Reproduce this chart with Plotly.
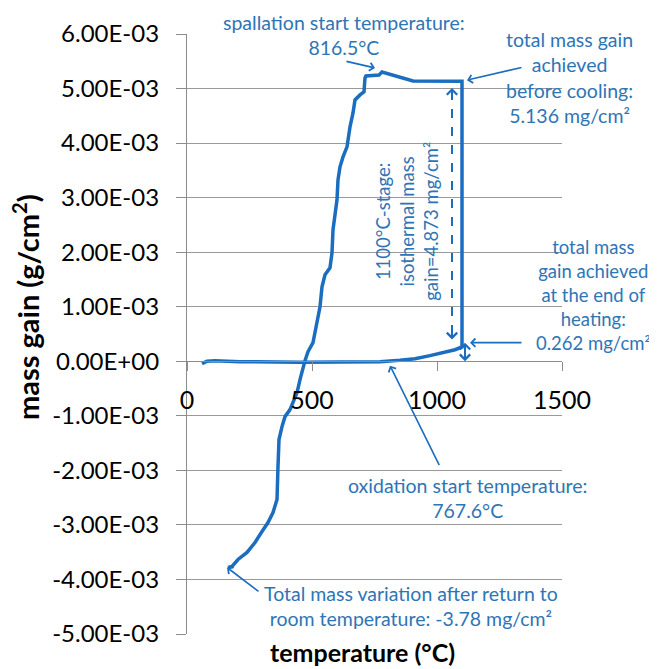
import plotly.graph_objects as go

# ---- data (temperature in °C, mass gain in g/cm²) ----
heat_T = [60, 80, 112, 212, 452, 692, 772, 852, 912, 972, 1032, 1072, 1100]
heat_m = [-0.044e-3, 0.002e-3, 0.011e-3, -0.007e-3, -0.016e-3, -0.016e-3, -0.007e-3,
          0.020e-3, 0.048e-3, 0.103e-3, 0.167e-3, 0.212e-3, 0.262e-3]

iso_T = [1100]
iso_m = [5.136e-3]

cool_T = [904, 780, 768, 716, 712, 708, 692, 672, 664, 652, 640, 624, 612, 604, 600, 592,
          584, 580, 572, 552, 540, 532, 520, 504, 484, 472, 452, 440, 412, 392, 380, 368,
          364, 360, 344, 324, 300, 272, 240, 204, 180, 164]
cool_m = [5.14e-3, 5.304e-3, 5.249e-3, 5.231e-3, 5.194e-3, 4.938e-3, 4.883e-3, 4.791e-3,
          4.553e-3, 4.297e-3, 3.930e-3, 3.747e-3, 3.564e-3, 3.326e-3, 2.960e-3, 2.648e-3,
          2.410e-3, 1.989e-3, 1.714e-3, 1.586e-3, 1.366e-3, 1.000e-3, 0.707e-3, 0.341e-3,
          0.176e-3, 0.011e-3, -0.337e-3, -0.575e-3, -0.886e-3, -1.015e-3, -1.198e-3,
          -1.436e-3, -1.930e-3, -2.535e-3, -2.773e-3, -2.956e-3, -3.121e-3, -3.322e-3,
          -3.505e-3, -3.634e-3, -3.762e-3, -3.780e-3]

x_tickvals = [0, 500, 1000, 1500]
x_ticktext = ["0", "500", "1000", "1500"]
y_tickvals = [6e-3, 5e-3, 4e-3, 3e-3, 2e-3, 1e-3, 0, -1e-3, -2e-3, -3e-3, -4e-3, -5e-3]
y_ticktext = ["6.00E-03", "5.00E-03", "4.00E-03", "3.00E-03", "2.00E-03", "1.00E-03",
              "0.00E+00", "-1.00E-03", "-2.00E-03", "-3.00E-03", "-4.00E-03", "-5.00E-03"]

T_all = heat_T + iso_T + cool_T
m_all = heat_m + iso_m + cool_m

LINE = "#1b6dbf"
TXT = "#2e75b6"
FONT = "Lato"

fig = go.Figure()
fig.add_trace(go.Scatter(x=T_all, y=m_all, mode="lines",
                         line=dict(color=LINE, width=3.5), showlegend=False,
                         hoverinfo="skip"))

# the page body adds an 8px offset, so the figure is 8px smaller than the window
fig.update_layout(
    width=649, height=661,
    margin=dict(l=179, r=95, t=26, b=35, autoexpand=False),
    paper_bgcolor="white", plot_bgcolor="white",
    font=dict(family=FONT, color="black"),
    showlegend=False,
    xaxis=dict(range=[0, 1500], tickvals=x_tickvals, ticktext=x_ticktext,
               anchor="free", position=5 / 11, showgrid=False, zeroline=False,
               automargin=False,
               showline=True, linecolor="#8c8c8c", linewidth=1.2,
               ticks="outside", ticklen=9, tickcolor="#8c8c8c", tickwidth=1.2,
               ticklabelstandoff=8,
               tickfont=dict(family=FONT, size=25, color="black")),
    yaxis=dict(range=[-5e-3, 6e-3], tickvals=y_tickvals, ticktext=y_ticktext,
               showgrid=True, gridcolor="#9a9a9a", gridwidth=1.2, zeroline=False,
               automargin=False,
               showline=True, linecolor="#8c8c8c", linewidth=1.2,
               ticks="outside", ticklen=10, tickcolor="#8c8c8c", tickwidth=1.2,
               ticklabelstandoff=12,
               tickfont=dict(family=FONT, size=24, color="black")),
)

# dashed shaft of the isothermal double arrow
fig.add_shape(type="line", xref="x", yref="y", x0=1060, x1=1060, y0=0.5e-3, y1=4.92e-3,
              line=dict(color=LINE, width=2, dash="dash"))

annos = []
def arrow(hx, hy, tx, ty, side="end", head=4, size=1.0, width=1.6):
    annos.append(dict(x=hx, y=hy, ax=tx, ay=ty, xref="x", yref="y", axref="x", ayref="y",
                      text="", showarrow=True, arrowhead=head, arrowsize=size,
                      arrowwidth=width, arrowcolor=LINE, arrowside=side,
                      startarrowhead=head, startarrowsize=size))

def label(x, y, text, angle=0, size=19.5, ref="x"):
    annos.append(dict(x=x, y=y, xref=ref if ref == "x" else "paper",
                      yref="y" if ref == "x" else "paper", text=text, showarrow=False,
                      textangle=angle, align="center", xanchor="center", yanchor="middle",
                      font=dict(family=FONT, size=size, color=TXT)))

# arrows
arrow(752, 5.377e-3, 632, 5.505e-3)            # spallation
arrow(1120, 5.154e-3, 1344, 5.393e-3)          # before cooling
arrow(1132, 0.341e-3, 1344, 0.341e-3)          # end of heating
arrow(812, -0.08e-3, 1012, -1.93e-3)           # oxidation start
arrow(160, -3.78e-3, 292, -4.238e-3)           # return to room temperature
arrow(1060, 5.01e-3, 1060, 4.80e-3, width=2)   # dashed arrow upper head
arrow(1060, 0.40e-3, 1060, 0.62e-3, width=2)   # dashed arrow lower head
arrow(1112, 0.34e-3, 1112, -0.025e-3, side="end+start", width=2)

# texts
label(628, 5.99e-3, "spallation start temperature:<br>816.5°C")
label(1.0213, 0.9275, "total mass gain<br>achieved<br>before cooling:<br>5.136 mg/cm²", ref="paper")
label(880, 2.557e-3, "1100°C-stage:<br>isothermal mass<br>gain=4.873 mg/cm²", angle=-90, size=18.5)
label(1.0827, 0.565, "total mass<br>gain achieved<br>at the end of<br>heating:<br>0.262 mg/cm²", ref="paper", size=18.5)
label(1120, -2.507e-3, "oxidation start temperature:<br>767.6°C")
label(896, -4.485e-3, "Total mass variation after return to<br>room temperature: -3.78 mg/cm²")

# axis titles
annos.append(dict(x=0.4667, y=-0.03, xref="paper", yref="paper", text="<b>temperature (°C)</b>",
                  showarrow=False, xanchor="center", yanchor="middle",
                  font=dict(family=FONT, size=25, color="black")))
annos.append(dict(x=-0.4293, y=0.545, xref="paper", yref="paper",
                  text="<b>mass gain (g/cm<sup>2</sup>)</b>", textangle=-90,
                  showarrow=False, xanchor="center", yanchor="middle",
                  font=dict(family=FONT, size=29, color="black")))

fig.update_layout(annotations=annos)
fig.write_html("out.html")
